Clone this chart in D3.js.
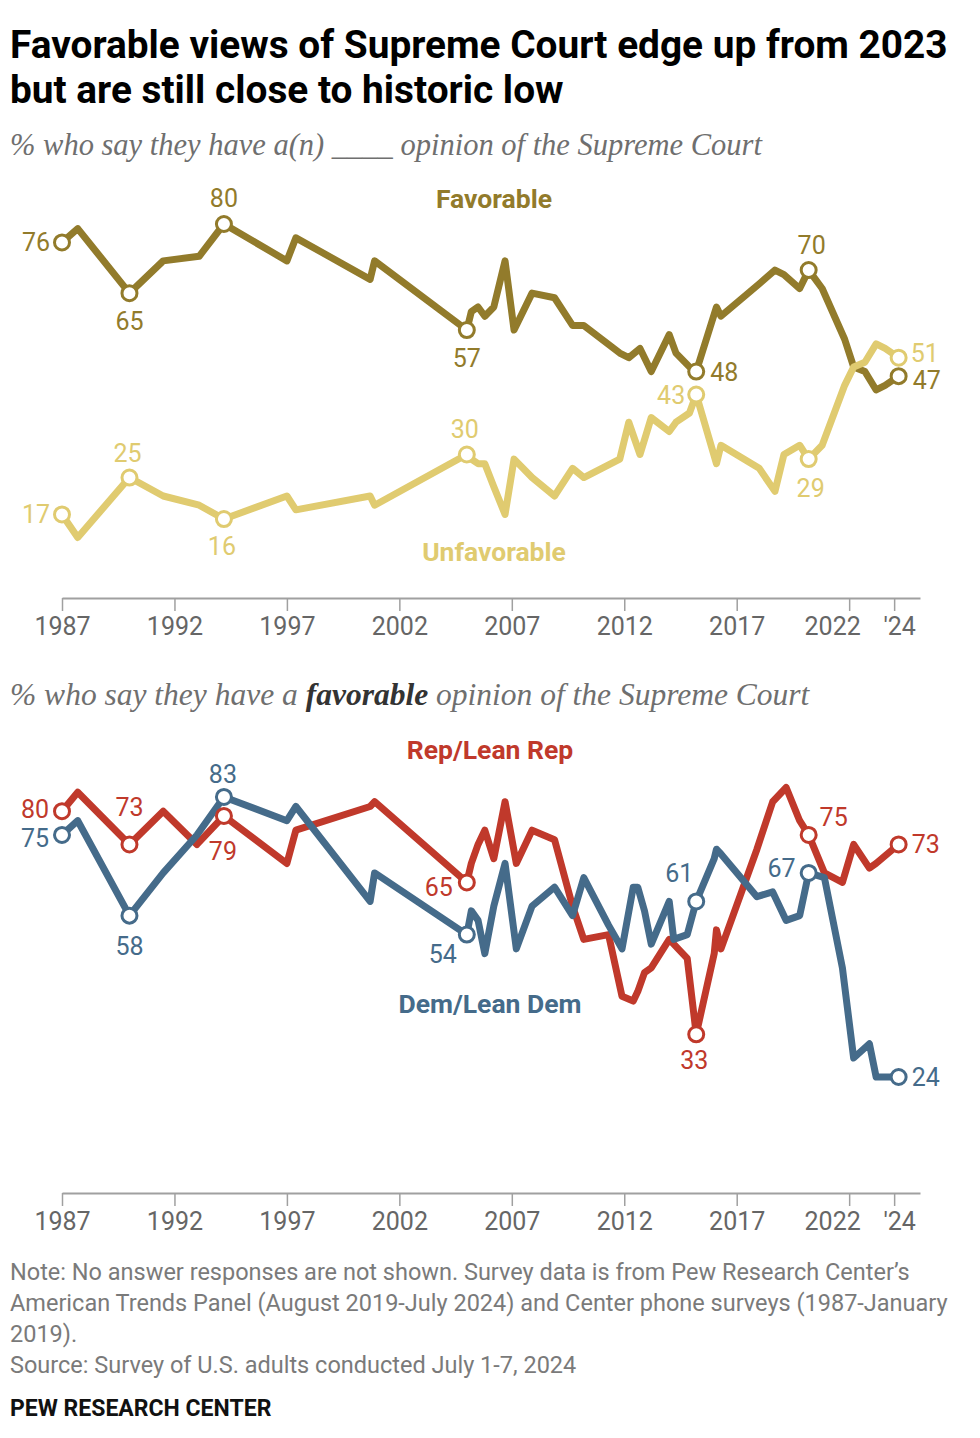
<!DOCTYPE html>
<html>
<head>
<meta charset="utf-8">
<script src="https://cdn.jsdelivr.net/npm/d3@7"></script>
<style>
  body { margin: 0; background: #fff; }
  svg text { font-family: Roboto, "Liberation Sans", sans-serif; }
  .serif { font-family: "Liberation Serif", "DejaVu Serif", serif; font-style: italic; }
</style>
</head>
<body>
<svg id="chart" width="980" height="1438"></svg>
<script>
// top panel: all adults, survey dates as fractional years
const topDates = [1987.0, 1987.7, 1990.0, 1991.5, 1993.1, 1994.2, 1997.0, 1997.4, 2000.7, 2000.9,
  2005.0, 2005.2, 2005.5, 2005.8, 2006.2, 2006.7, 2007.1, 2007.9, 2008.9, 2009.7,
  2010.2, 2011.8, 2012.2, 2012.7, 2013.2, 2014.0, 2014.3, 2014.9, 2015.2, 2016.1,
  2016.3, 2018.0, 2018.7, 2019.1, 2019.8, 2020.2, 2020.8, 2021.8, 2022.2, 2022.7,
  2023.2, 2023.6, 2024.2];
const favorable = [76, 79, 65, 72, 73, 80, 72, 77, 68, 72,
  57, 61, 62, 60, 62, 72, 57, 65, 64, 58,
  58, 52, 51, 53, 48, 56, 52, 49, 48, 62,
  60, 67, 70, 69, 66, 70, 66, 55, 49, 48,
  44, 45, 47];
const unfavorable = [17, 12, 25, 21, 19, 16, 21, 18, 21, 19,
  30, 29, 28, 28, 23, 17, 29, 25, 21, 27,
  25, 29, 37, 30, 38, 35, 37, 39, 43, 28,
  32, 27, 22, 30, 32, 29, 32, 45, 49, 50,
  54, 53, 51];

// bottom panel: favorable by party
const partyDates = [1987.0, 1987.7, 1990.0, 1991.5, 1993.0, 1994.2, 1997.0, 1997.4, 2000.7, 2000.9,
  2005.0, 2005.2, 2005.5, 2005.8, 2006.2, 2006.7, 2007.2, 2007.9, 2008.9, 2009.7,
  2010.2, 2011.3, 2011.9, 2012.4, 2012.6, 2012.9, 2013.2, 2014.0, 2014.2, 2014.8,
  2015.2, 2016.0, 2016.1, 2016.3, 2017.9, 2018.6, 2019.2, 2019.8, 2020.2, 2020.9,
  2021.7, 2022.2, 2022.9, 2023.2, 2024.2];
const repLean = [80, 84, 73, 80, 73, 79, 69, 76, 81, 82,
  65, 69, 73, 76, 70, 82, 69, 76, 74, 60,
  53, 54, 41, 40, 42, 46, 47, 53, 52, 49,
  33, 50, 55, 51, 72, 82, 85, 78, 75, 67,
  65, 73, 68, 69, 73];
const demLean = [75, 78, 58, 67, 75, 83, 78, 81, 61, 67,
  54, 59, 57, 50, 60, 69, 51, 60, 64, 58,
  66, 56, 51, 64, 64, 59, 52, 61, 53, 54,
  61, 70, 72, 71, 62, 63, 57, 58, 67, 66,
  47, 28, 31, 24, 24];

const markedYears = [1987.0, 1990.0, 1994.2, 2005.0, 2015.2, 2020.2, 2024.2];
const tickYears = [1987, 1992, 1997, 2002, 2007, 2012, 2017, 2022, 2024];
const tickLabels = ['1987', '1992', '1997', '2002', '2007', '2012', '2017', '2022', "'24"];

const noteLines = [
  "Note: No answer responses are not shown. Survey data is from Pew Research Center\u2019s",
  "American Trends Panel (August 2019-July 2024) and Center phone surveys (1987-January",
  "2019).",
  "Source: Survey of U.S. adults conducted July 1-7, 2024"
];

const svg = d3.select('#chart');

// heading
const title = svg.append('text').attr('x', 10).attr('y', 58)
  .attr('font-size', 38.8).attr('font-weight', 700).attr('fill', '#000');
title.append('tspan').attr('x', 10).text('Favorable views of Supreme Court edge up from 2023');
title.append('tspan').attr('x', 10).attr('y', 103).text('but are still close to historic low');

const sub1 = svg.append('text').attr('class', 'serif').attr('x', 10).attr('y', 155)
  .attr('font-size', 30.5).attr('fill', '#6f6f6f');
sub1.text('% who say they have a(n) ____ opinion of the Supreme Court');

const sub2 = svg.append('text').attr('class', 'serif').attr('x', 10).attr('y', 705)
  .attr('font-size', 31.5).attr('fill', '#6f6f6f');
sub2.append('tspan').text('% who say they have a ');
sub2.append('tspan').attr('font-weight', 700).attr('fill', '#333').text('favorable');
sub2.append('tspan').text(' opinion of the Supreme Court');

const x = d3.scaleLinear().domain([1987, 2025.15]).range([62, 920]);

function panel(opts) {
  const y = d3.scaleLinear().domain([0, 100]).range(opts.yRange);
  const g = svg.append('g');

  const axis = d3.axisBottom(x)
    .tickValues(tickYears)
    .tickFormat((d, i) => tickLabels[i])
    .tickSize(13)
    .tickSizeOuter(0)
    .tickPadding(6);
  const ax = g.append('g').attr('transform', `translate(0,${opts.axisY})`).call(axis);
  ax.select('.domain').attr('stroke', '#a0a0a0').attr('stroke-width', 2);
  ax.selectAll('.tick line').attr('stroke', '#a0a0a0').attr('stroke-width', 1.5);
  ax.selectAll('.tick text').attr('font-size', 25).attr('fill', '#666')
    .attr('font-family', 'Roboto, "Liberation Sans", sans-serif')
    .attr('dx', d => d === 2022 ? -17 : d === 2024 ? 5 : 0);

  const line = d3.line().x(d => x(d[0])).y(d => y(d[1]));

  opts.series.forEach(s => {
    const pts = opts.dates.map((d, i) => [d, s.values[i]]);
    g.append('path').datum(pts)
      .attr('d', line)
      .attr('fill', 'none')
      .attr('stroke', s.color)
      .attr('stroke-width', 7)
      .attr('stroke-linejoin', 'round')
      .attr('stroke-linecap', 'round');
  });

  opts.series.forEach(s => {
    const marked = markedYears.map((yr, k) => {
      const i = opts.dates.indexOf(yr);
      return { year: yr, value: s.values[i], place: s.places[k] };
    });
    g.selectAll(null).data(marked).enter().append('circle')
      .attr('cx', d => x(d.year))
      .attr('cy', d => y(d.value))
      .attr('r', 7.5)
      .attr('fill', '#fff')
      .attr('stroke', s.color)
      .attr('stroke-width', 3);
    g.selectAll(null).data(marked).enter().append('text')
      .attr('x', d => x(d.year) + d.place[0])
      .attr('y', d => y(d.value) + d.place[1])
      .attr('dy', '0.36em')
      .attr('text-anchor', d => d.place[2])
      .attr('font-size', 25)
      .attr('fill', s.color)
      .text(d => d.value);
    g.append('text')
      .attr('x', s.nameAt[0]).attr('y', s.nameAt[1])
      .attr('dy', '0.36em')
      .attr('text-anchor', 'middle')
      .attr('font-size', 26.5).attr('font-weight', 700)
      .attr('fill', s.color)
      .text(s.name);
  });
}

panel({
  dates: topDates,
  yRange: [592.8, 131.8],
  axisY: 598,
  series: [
    { name: 'Favorable', values: favorable, color: '#927b2b', nameAt: [494, 198],
      places: [[-12, 0, 'end'], [0, 28, 'middle'], [0, -26, 'middle'], [0, 28, 'middle'],
               [14, 0, 'start'], [3, -25, 'middle'], [14, 4, 'start']] },
    { name: 'Unfavorable', values: unfavorable, color: '#e0cb70', nameAt: [494, 551],
      places: [[-12, 0, 'end'], [-2, -25, 'middle'], [-2, 27, 'middle'], [-2, -26, 'middle'],
               [-11, 0, 'end'], [2, 29, 'middle'], [12, -5, 'start']] }
  ]
});

panel({
  dates: partyDates,
  yRange: [1190.9, 716.3],
  axisY: 1193,
  series: [
    { name: 'Rep/Lean Rep', values: repLean, color: '#c0392b', nameAt: [490, 749],
      places: [[-13, -2, 'end'], [0, -37, 'middle'], [-1, 35, 'middle'], [-14, 5, 'end'],
               [-2, 26, 'middle'], [25, -18, 'middle'], [13, 0, 'start']] },
    { name: 'Dem/Lean Dem', values: demLean, color: '#456b8a', nameAt: [490, 1003],
      places: [[-13, 3, 'end'], [0, 30, 'middle'], [-1, -23, 'middle'], [-24, 19, 'middle'],
               [-17, -28, 'middle'], [-13, -5, 'end'], [13, 0, 'start']] }
  ]
});

// footer
svg.selectAll('.note').data(noteLines).enter().append('text')
  .attr('class', 'note')
  .attr('x', 10)
  .attr('y', (d, i) => 1280 + i * 31)
  .attr('font-size', 23.5)
  .attr('fill', '#7a7a7a')
  .text(d => d);

svg.append('text').attr('x', 10).attr('y', 1416)
  .attr('font-size', 23).attr('font-weight', 700).attr('fill', '#111')
  .text('PEW RESEARCH CENTER');
</script>
</body>
</html>
